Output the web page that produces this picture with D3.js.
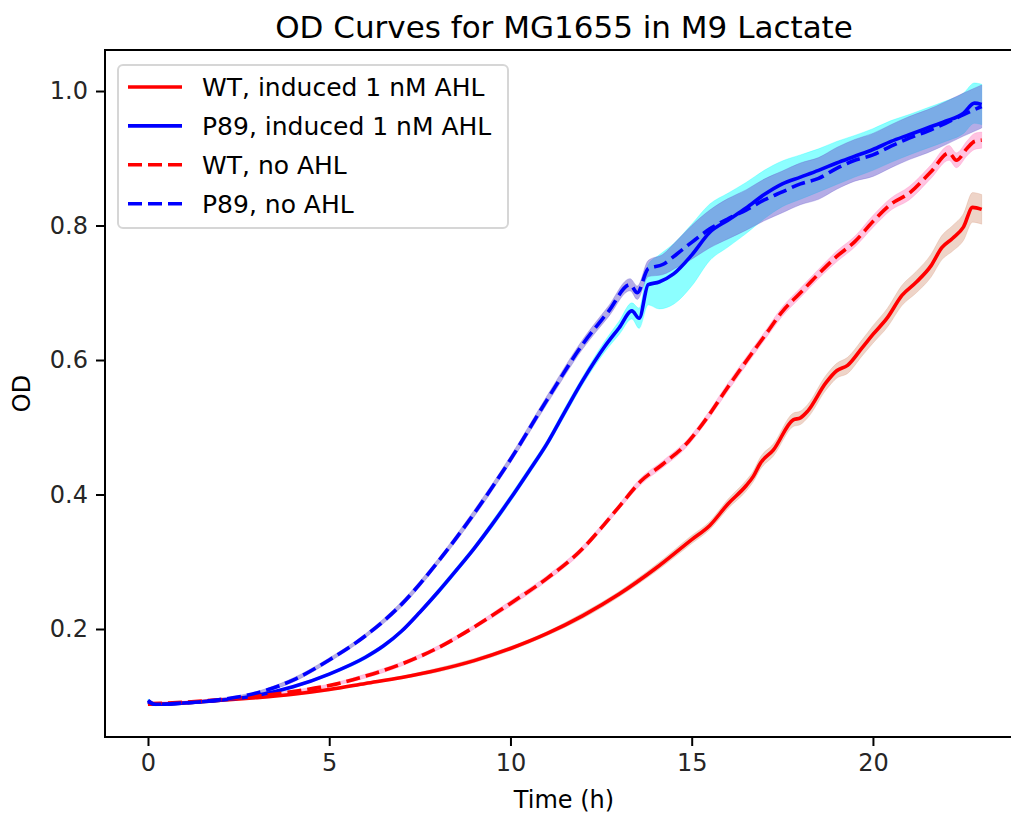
<!DOCTYPE html>
<html>
<head>
<meta charset="utf-8">
<script src="https://cdn.jsdelivr.net/npm/d3@7"></script>
<style>
  body { margin: 0; background: #fff; }
  svg { display: block; font-family: 'DejaVu Sans', sans-serif; }
</style>
</head>
<body>
<div id="chart"></div>
<script>
// [hour, mean OD, sd]
var wtInduced = [
  [0, 0.088, 0.002], [1, 0.090, 0.002], [2, 0.094, 0.002], [3, 0.098, 0.002],
  [4, 0.103, 0.002], [5, 0.110, 0.002], [6, 0.119, 0.002], [7, 0.128, 0.002],
  [8, 0.139, 0.003], [9, 0.153, 0.003], [10, 0.171, 0.003], [11, 0.193, 0.003],
  [12, 0.220, 0.004], [13, 0.252, 0.004], [14, 0.290, 0.005], [15, 0.333, 0.006],
  [15.5, 0.354, 0.006], [16, 0.386, 0.007], [16.5, 0.413, 0.008], [16.7, 0.427, 0.008],
  [16.9, 0.447, 0.009], [17.25, 0.466, 0.009], [17.8, 0.511, 0.010], [18.0, 0.514, 0.010],
  [18.2, 0.524, 0.010], [18.7, 0.566, 0.011], [19, 0.584, 0.011], [19.3, 0.592, 0.012],
  [19.7, 0.618, 0.012], [20, 0.638, 0.013], [20.4, 0.663, 0.014], [20.8, 0.696, 0.015],
  [21.2, 0.716, 0.016], [21.6, 0.740, 0.017], [21.9, 0.767, 0.018], [22.2, 0.781, 0.019],
  [22.5, 0.798, 0.020], [22.75, 0.827, 0.022], [23, 0.824, 0.022]
]

var p89Induced = [
  [0, 0.094, 0.002], [0.2, 0.088, 0.002], [1, 0.090, 0.002], [2, 0.094, 0.002],
  [3, 0.101, 0.002], [4, 0.114, 0.002], [5, 0.133, 0.002], [6, 0.158, 0.003],
  [6.5, 0.175, 0.003], [7, 0.197, 0.003], [7.5, 0.225, 0.003], [8, 0.255, 0.004],
  [8.5, 0.287, 0.004], [9, 0.320, 0.004], [9.5, 0.356, 0.005], [10, 0.394, 0.005],
  [10.5, 0.434, 0.005], [11, 0.475, 0.005], [11.5, 0.523, 0.006], [12, 0.570, 0.006],
  [12.6, 0.620, 0.008], [13.0, 0.648, 0.010],
  [13.35, 0.673, 0.012], [13.55, 0.662, 0.015], [13.8, 0.712, 0.030], [14.1, 0.716, 0.040],
  [14.5, 0.728, 0.045], [15, 0.756, 0.046], [15.5, 0.790, 0.042], [16, 0.808, 0.040],
  [16.5, 0.826, 0.038], [17, 0.846, 0.036], [17.5, 0.862, 0.034], [18, 0.872, 0.033],
  [18.5, 0.882, 0.032], [19, 0.893, 0.032], [19.5, 0.903, 0.031], [20, 0.913, 0.031],
  [20.5, 0.925, 0.031], [21, 0.935, 0.030], [21.5, 0.945, 0.030], [22, 0.955, 0.030],
  [22.5, 0.967, 0.030], [22.8, 0.982, 0.030], [23, 0.980, 0.030]
]

var wtNoAhl = [
  [0, 0.089, 0.002], [1, 0.091, 0.002], [2, 0.095, 0.002], [3, 0.100, 0.002],
  [4, 0.107, 0.002], [5, 0.116, 0.002], [6, 0.130, 0.003], [7, 0.148, 0.003],
  [8, 0.172, 0.003], [9, 0.203, 0.003], [10, 0.238, 0.004], [11, 0.275, 0.004],
  [12, 0.320, 0.004], [12.5, 0.350, 0.004], [13, 0.382, 0.004], [13.6, 0.420, 0.005],
  [14.2, 0.445, 0.005], [14.9, 0.478, 0.005], [15.3, 0.505, 0.005], [16, 0.560, 0.006],
  [16.5, 0.598, 0.006], [17, 0.635, 0.006], [17.5, 0.672, 0.007], [18, 0.700, 0.007],
  [18.5, 0.728, 0.007], [19, 0.754, 0.008], [19.5, 0.776, 0.008], [20, 0.806, 0.009],
  [20.5, 0.832, 0.009], [21, 0.848, 0.010], [21.6, 0.880, 0.010], [22.1, 0.908, 0.011],
  [22.3, 0.897, 0.011], [22.6, 0.915, 0.011], [22.8, 0.925, 0.012], [23, 0.927, 0.012]
]

var p89NoAhl = [
  [0, 0.092, 0.002], [0.2, 0.088, 0.002], [1, 0.090, 0.002], [2, 0.095, 0.002],
  [3, 0.105, 0.002], [4, 0.124, 0.003], [5, 0.154, 0.003], [6, 0.190, 0.003],
  [7, 0.237, 0.004], [8, 0.300, 0.004], [9, 0.372, 0.005], [10, 0.452, 0.005],
  [11, 0.540, 0.006], [12, 0.624, 0.007], [12.7, 0.672, 0.008], [13.3, 0.712, 0.009],
  [13.5, 0.700, 0.010], [13.8, 0.736, 0.012], [14.2, 0.742, 0.015], [14.6, 0.758, 0.020],
  [15, 0.775, 0.025], [15.5, 0.795, 0.028], [16, 0.810, 0.030], [16.5, 0.823, 0.030],
  [17, 0.838, 0.031], [17.5, 0.850, 0.031], [18, 0.862, 0.031], [18.5, 0.870, 0.031],
  [19, 0.885, 0.031], [19.5, 0.897, 0.031], [20, 0.905, 0.032], [20.5, 0.918, 0.032],
  [21, 0.930, 0.032], [21.5, 0.940, 0.032], [22, 0.952, 0.032], [22.5, 0.965, 0.032],
  [23, 0.977, 0.032]
]

var xTicks = [0, 5, 10, 15, 20]
var yTicks = [0.2, 0.4, 0.6, 0.8, 1.0]

var series = [
  { name: 'WT, induced 1 nM AHL', data: wtInduced, color: 'red', dash: null, band: '#c8704a', bandAlpha: 0.3 },
  { name: 'P89, induced 1 nM AHL', data: p89Induced, color: 'blue', dash: null, band: 'cyan', bandAlpha: 0.45 },
  { name: 'WT, no AHL', data: wtNoAhl, color: 'red', dash: '14,6', band: 'hotpink', bandAlpha: 0.4 },
  { name: 'P89, no AHL', data: p89NoAhl, color: 'blue', dash: '14,6', band: 'slateblue', bandAlpha: 0.5 }
]

var width = 1011
var height = 813
var plotLeft = 105
var plotRight = 1023
var plotTop = 50
var plotBottom = 737
var lineWidth = 3.6

var x = d3.scaleLinear().domain([-1.186, 24.14]).range([plotLeft, plotRight])
var y = d3.scaleLinear().domain([0.0394, 1.061]).range([plotBottom, plotTop])

var svg = d3.select('#chart').append('svg')
  .attr('width', width)
  .attr('height', height)

var area = d3.area()
  .curve(d3.curveMonotoneX)
  .x(function (d) { return x(d[0]) })
  .y0(function (d) { return y(d[1] - d[2]) })
  .y1(function (d) { return y(d[1] + d[2]) })

var line = d3.line()
  .curve(d3.curveMonotoneX)
  .x(function (d) { return x(d[0]) })
  .y(function (d) { return y(d[1]) })

var bands = svg.append('g').attr('class', 'bands')
series.forEach(function (s) {
  bands.append('path')
    .datum(s.data)
    .attr('d', area)
    .attr('fill', s.band)
    .attr('fill-opacity', s.bandAlpha)
    .attr('stroke', s.band)
    .attr('stroke-opacity', s.bandAlpha * 0.6)
    .attr('stroke-width', 1)
})

var lines = svg.append('g').attr('class', 'lines')
series.forEach(function (s) {
  lines.append('path')
    .datum(s.data)
    .attr('d', line)
    .attr('fill', 'none')
    .attr('stroke', s.color)
    .attr('stroke-width', lineWidth)
    .attr('stroke-linejoin', 'round')
    .attr('stroke-dasharray', s.dash)
})

// axes
var xAxis = d3.axisBottom(x).tickValues(xTicks).tickSize(9).tickPadding(8).tickFormat(d3.format('d'))
var yAxis = d3.axisLeft(y).tickValues(yTicks).tickSize(9).tickPadding(8).tickFormat(d3.format('.1f'))

var gx = svg.append('g')
  .attr('transform', 'translate(0,' + plotBottom + ')')
  .call(xAxis)
var gy = svg.append('g')
  .attr('transform', 'translate(' + plotLeft + ',0)')
  .call(yAxis)

;[gx, gy].forEach(function (g) {
  g.select('.domain').remove()
  g.selectAll('.tick line').attr('stroke', '#000').attr('stroke-width', 2)
  g.selectAll('.tick text').attr('fill', '#262626').style('font-size', '24px')
    .style('font-family', "'DejaVu Sans', sans-serif")
})

// spines
svg.append('rect')
  .attr('x', plotLeft)
  .attr('y', plotTop)
  .attr('width', plotRight - plotLeft)
  .attr('height', plotBottom - plotTop)
  .attr('fill', 'none')
  .attr('stroke', '#000')
  .attr('stroke-width', 2)

// title and labels
svg.append('text')
  .attr('x', (plotLeft + plotRight) / 2)
  .attr('y', 38)
  .attr('text-anchor', 'middle')
  .style('font-size', '31px')
  .attr('fill', '#000')
  .text('OD Curves for MG1655 in M9 Lactate')

svg.append('text')
  .attr('x', (plotLeft + plotRight) / 2)
  .attr('y', 808)
  .attr('text-anchor', 'middle')
  .style('font-size', '24px')
  .attr('fill', '#000')
  .text('Time (h)')

svg.append('text')
  .attr('transform', 'translate(30,' + ((plotTop + plotBottom) / 2) + ') rotate(-90)')
  .attr('text-anchor', 'middle')
  .style('font-size', '24px')
  .attr('fill', '#000')
  .text('OD')

// legend
var legend = svg.append('g').attr('transform', 'translate(118,65)')
legend.append('rect')
  .attr('width', 390)
  .attr('height', 163)
  .attr('rx', 5)
  .attr('fill', '#fff')
  .attr('fill-opacity', 0.8)
  .attr('stroke', '#d6d6d6')
  .attr('stroke-width', 2)

series.forEach(function (s, i) {
  var row = legend.append('g').attr('transform', 'translate(0,' + (22 + i * 38.9) + ')')
  row.append('line')
    .attr('x1', 10).attr('x2', 64)
    .attr('stroke', s.color)
    .attr('stroke-width', lineWidth)
    .attr('stroke-dasharray', s.dash)
  row.append('text')
    .attr('x', 84)
    .attr('dy', '0.36em')
    .style('font-size', '25px')
    .attr('fill', '#000')
    .text(s.name)
})
</script>
</body>
</html>
